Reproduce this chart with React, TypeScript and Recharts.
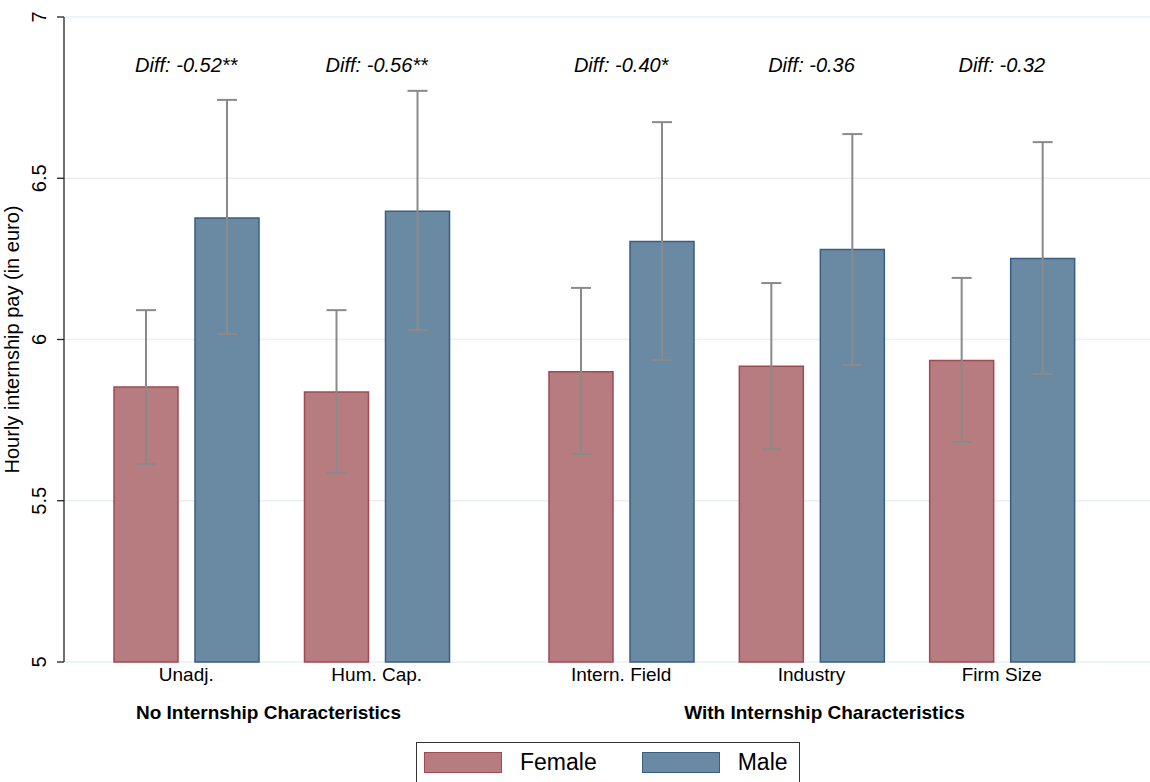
import { BarChart, Bar, XAxis, YAxis, CartesianGrid, ErrorBar, ReferenceDot, Legend } from 'recharts';

const FONT = '"Liberation Sans", Arial, Helvetica, sans-serif';

// values
const categories = ['Unadj.', 'Hum. Cap.', 'Intern. Field', 'Industry', 'Firm Size'];
const femaleMean = [5.853, 5.837, 5.9, 5.917, 5.935];
const femaleLow = [5.614, 5.586, 5.645, 5.66, 5.682];
const femaleHigh = [6.091, 6.091, 6.16, 6.175, 6.191];
const maleMean = [6.377, 6.398, 6.304, 6.279, 6.251];
const maleLow = [6.017, 6.029, 5.936, 5.921, 5.893];
const maleHigh = [6.743, 6.771, 6.674, 6.637, 6.612];
const diffLabels = ['Diff: -0.52**', 'Diff: -0.56**', 'Diff: -0.40*', 'Diff: -0.36', 'Diff: -0.32'];
const groupNames = ['No Internship Characteristics', 'With Internship Characteristics'];
const groupSizes = [2, 3];
const yTicks = [5, 5.5, 6, 6.5, 7];
const diffY = 6.85;

const FEMALE = { name: 'Female', fill: '#b77c7f', stroke: '#a04a54' };
const MALE = { name: 'Male', fill: '#6a89a2', stroke: '#3a5d82' };
const GRID = '#e9eff2';
const ERR = '#8a8a8a';

const rows = categories.map((name, i) => ({
  name,
  female: femaleMean[i],
  male: maleMean[i],
  femaleErr: [femaleMean[i] - femaleLow[i], femaleHigh[i] - femaleMean[i]],
  maleErr: [maleMean[i] - maleLow[i], maleHigh[i] - maleMean[i]],
  diff: diffLabels[i],
}));

const leftRows = rows.slice(0, groupSizes[0]);
const rightRows = rows.slice(groupSizes[0], groupSizes[0] + groupSizes[1]);

const H = 782;
const TOP = 17;
const XH = 80;
const BOTTOM = H - 662 - XH;
const SPLIT = 499;

const YTick = (p: any) => (
  <text
    x={p.x}
    y={p.y}
    transform={`rotate(-90, ${p.x}, ${p.y})`}
    textAnchor="middle"
    fontSize={20}
    fontFamily={FONT}
    fill="#000"
  >
    {p.payload.value}
  </text>
);

const XTick = (p: any) => (
  <text x={p.x} y={p.y + 19} textAnchor="middle" fontSize={19} fontFamily={FONT} fill="#000">
    {p.payload.value}
  </text>
);

const groupLabel = (text: string, dx: number) => (p: any) => {
  const vb = p.viewBox;
  return (
    <text
      x={vb.x + vb.width / 2 + dx}
      y={vb.y + 57}
      textAnchor="middle"
      fontSize={19}
      fontWeight="bold"
      fontFamily={FONT}
      fill="#000"
    >
      {text}
    </text>
  );
};

const diffLabel = (p: any) => (
  <text
    x={p.viewBox.x}
    y={p.viewBox.y + 7}
    textAnchor="middle"
    fontSize={20}
    fontStyle="italic"
    fontFamily={FONT}
    fill="#000"
  >
    {p.value}
  </text>
);

const yTitle = (p: any) => {
  const vb = p.viewBox;
  const cx = vb.x + 19;
  const cy = vb.y + vb.height / 2;
  return (
    <text x={cx} y={cy} transform={`rotate(-90, ${cx}, ${cy})`} textAnchor="middle" fontSize={20} fontFamily={FONT} fill="#000">
      Hourly internship pay (in euro)
    </text>
  );
};

const LegendBox = (props: any) => {
  const items = (props.payload || []).map((e: any) => (e.value === MALE.name ? MALE : FEMALE));
  return (
    <div
      style={{
        border: '1px solid #333',
        height: 60,
        boxSizing: 'border-box',
        display: 'flex',
        alignItems: 'flex-start',
        paddingTop: 9,
        paddingLeft: 7,
        fontFamily: FONT,
        fontSize: 23,
        background: '#fff',
      }}
    >
      {items.map((s: any, i: number) => (
        <div key={s.name} style={{ display: 'flex', alignItems: 'center', marginRight: i === 0 ? 45 : 0 }}>
          <div style={{ width: 78, height: 21, background: s.fill, border: `1.5px solid ${s.stroke}`, boxSizing: 'border-box' }} />
          <span style={{ marginLeft: 18, lineHeight: '21px', color: '#000' }}>{s.name}</span>
        </div>
      ))}
    </div>
  );
};

function Bars() {
  return [
    <Bar key="f" dataKey="female" name={FEMALE.name} fill={FEMALE.fill} stroke={FEMALE.stroke} strokeWidth={1.5} barSize={64} isAnimationActive={false}>
      <ErrorBar dataKey="femaleErr" width={10} stroke={ERR} strokeWidth={2} />
    </Bar>,
    <Bar key="m" dataKey="male" name={MALE.name} fill={MALE.fill} stroke={MALE.stroke} strokeWidth={1.5} barSize={64} isAnimationActive={false}>
      <ErrorBar dataKey="maleErr" width={10} stroke={ERR} strokeWidth={2} />
    </Bar>,
  ];
}

export default function App() {
  return (
    <div style={{ position: 'absolute', left: 0, top: 0, width: 1150, height: H, background: '#fff', overflow: 'hidden' }}>
      <div style={{ position: 'absolute', left: 0, top: 0 }}>
        <BarChart width={SPLIT} height={H} data={leftRows} barGap={17} margin={{ top: TOP, right: 0, bottom: BOTTOM, left: 0 }}>
          <CartesianGrid vertical={false} stroke={GRID} strokeWidth={1.5} />
          <XAxis
            dataKey="name"
            height={XH}
            axisLine={false}
            tickLine={false}
            tickSize={0}
            tickMargin={0}
            tick={XTick}
            padding={{ left: 27, right: 27 }}
            label={{ content: groupLabel(groupNames[0], -13) }}
          />
          <YAxis
            domain={[5, 7]}
            ticks={yTicks}
            width={64}
            tick={YTick}
            tickSize={7}
            tickMargin={11}
            axisLine={{ stroke: '#222', strokeWidth: 1.3 }}
            tickLine={{ stroke: '#222', strokeWidth: 1.3 }}
            label={{ content: yTitle }}
          />
          {Bars()}
          {leftRows.map((r) => (
            <ReferenceDot key={r.name} x={r.name} y={diffY} r={0} stroke="none" fill="none" label={{ value: r.diff, content: diffLabel }} />
          ))}
        </BarChart>
      </div>
      <div style={{ position: 'absolute', left: 0, top: 0 }}>
        <BarChart width={1150} height={H} data={rightRows} barGap={17} margin={{ top: TOP, right: 0, bottom: BOTTOM, left: SPLIT }}>
          <CartesianGrid vertical={false} stroke={GRID} strokeWidth={1.5} />
          <XAxis
            dataKey="name"
            height={XH}
            axisLine={false}
            tickLine={false}
            tickSize={0}
            tickMargin={0}
            tick={XTick}
            padding={{ left: 27, right: 53 }}
            label={{ content: groupLabel(groupNames[1], 0) }}
          />
          <YAxis domain={[5, 7]} ticks={yTicks} hide />
          {Bars()}
          {rightRows.map((r) => (
            <ReferenceDot key={r.name} x={r.name} y={diffY} r={0} stroke="none" fill="none" label={{ value: r.diff, content: diffLabel }} />
          ))}
          <Legend
            layout="horizontal"
            verticalAlign="middle"
            align="center"
            content={LegendBox}
            wrapperStyle={{ left: 416, top: 742, width: 384, height: 60 }}
          />
        </BarChart>
      </div>
    </div>
  );
}
